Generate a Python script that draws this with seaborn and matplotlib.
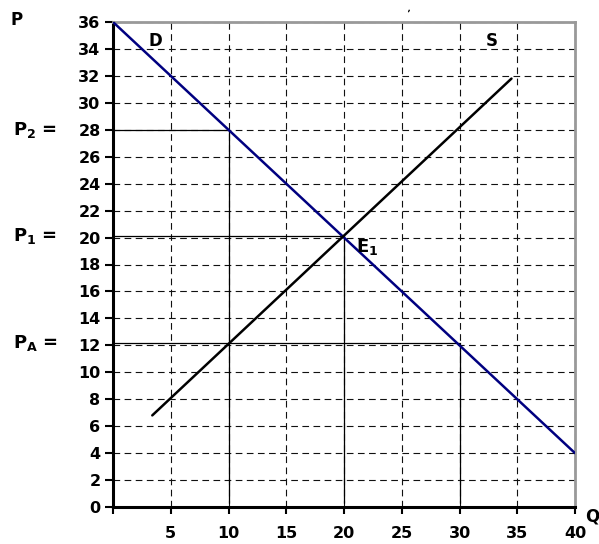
import numpy as np
import pandas as pd
import seaborn as sns
import matplotlib.pyplot as plt

# demand and supply lines (Q, P)
demand_q = [0, 40]
demand_p = [36, 4]
supply_q = [3.4, 34.5]
supply_p = [6.8, 31.8]

# reference prices and the quantities they reach to
ref_prices = [28, 20.15, 12.2]
ref_qty = [10, 20, 30]
ref_labels = ['P$_2$ =', 'P$_1$ =', 'P$_A$ =']

x_ticks = [0, 5, 10, 15, 20, 25, 30, 35, 40]
y_ticks = list(range(0, 37, 2))

sns.set_style('ticks')
plt.rcParams['font.family'] = ['DejaVu Sans']
plt.rcParams['font.weight'] = 'bold'
plt.rcParams['mathtext.fontset'] = 'dejavusans'
plt.rcParams['mathtext.default'] = 'bf'
for k in ['text.color', 'xtick.color', 'ytick.color', 'axes.labelcolor']:
    plt.rcParams[k] = 'black'

fig = plt.figure(figsize=(5.99, 5.44), dpi=100)
ax = fig.add_axes([113 / 599, 37 / 544, 462 / 599, 485 / 544])

# grid
for x in x_ticks[1:]:
    ax.axvline(x, color='#111111', lw=0.8, ls=(0, (6, 4)), zorder=1)
for y in y_ticks[1:]:
    ax.axhline(y, color='#111111', lw=0.8, ls=(0, (6, 4)), zorder=1)

# reference lines
for p, q in zip(ref_prices, ref_qty):
    ax.plot([0, q], [p, p], color='black', lw=0.9, zorder=2)
    ax.plot([q, q], [0.3, p], color='black', lw=0.9, zorder=2)

dem = pd.DataFrame({'Q': demand_q, 'P': demand_p})
sup = pd.DataFrame({'Q': supply_q, 'P': supply_p})
sns.lineplot(data=dem, x='Q', y='P', ax=ax, color='#000080', lw=1.8, zorder=3)
sns.lineplot(data=sup, x='Q', y='P', ax=ax, color='black', lw=1.8, zorder=3)

ax.set_xlim(0, 40)
ax.set_ylim(0, 36)
ax.set_xticks(x_ticks)
ax.set_xticklabels([''] + [str(x) for x in x_ticks[1:]])
ax.set_yticks(y_ticks)
ax.set_yticklabels([str(y) for y in y_ticks])
ax.tick_params(axis='x', direction='out', length=5, width=1.5, pad=9, labelsize=11.5,
               colors='black')
ax.tick_params(axis='y', direction='out', length=6, width=1.5, pad=3, labelsize=11.5,
               colors='black')
ax.set_xlabel('')
ax.set_ylabel('')

for s in ['left', 'bottom']:
    ax.spines[s].set_linewidth(2.2)
    ax.spines[s].set_color('black')
for s in ['top', 'right']:
    ax.spines[s].set_linewidth(2)
    ax.spines[s].set_color('#999999')

# annotations
fig.text(10 / 599, 1 - 20 / 544, 'P', fontsize=12, fontweight='bold', va='center')
for p, lab in zip(ref_prices, ref_labels):
    ax.text(-8.7, p, lab, fontsize=13, fontweight='bold', va='center', ha='left')
ax.text(3.1, 34.6, 'D', fontsize=12, fontweight='bold', va='center')
ax.text(32.3, 34.6, 'S', fontsize=12, fontweight='bold', va='center')
ax.text(21.0, 19.3, 'E$_1$', fontsize=13, fontweight='bold', va='center')
fig.text(585 / 599, 1 - 516 / 544, 'Q', fontsize=12, fontweight='bold', va='center')
fig.text(404 / 599, 1 - 13 / 544, "'", fontsize=7, va='center', rotation=-20)

plt.savefig('out.png', dpi=100)
